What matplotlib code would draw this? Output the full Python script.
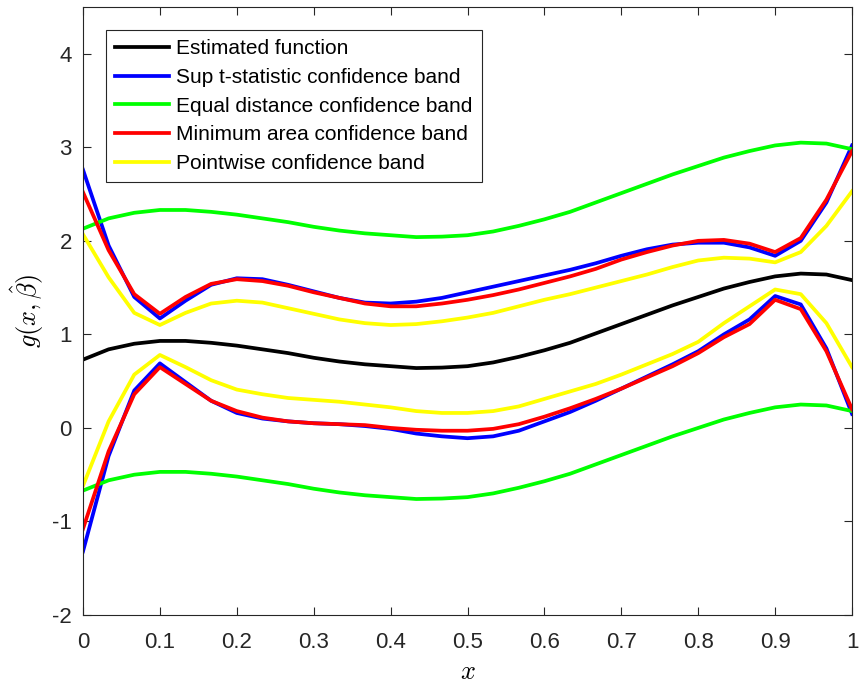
import numpy as np
import matplotlib.pyplot as plt
import matplotlib as mpl

mpl.rcParams['mathtext.fontset'] = 'cm'
plt.rcParams['font.family'] = ['Liberation Sans', 'DejaVu Sans']
plt.rcParams['font.size'] = 16
plt.rcParams['axes.unicode_minus'] = False
plt.rcParams['xtick.direction'] = 'in'
plt.rcParams['ytick.direction'] = 'in'
plt.rcParams['xtick.top'] = True
plt.rcParams['ytick.right'] = True

# grid of evaluation points
x = np.linspace(0, 1, 31)

# values
est = [0.73, 0.84, 0.90, 0.93, 0.93, 0.91, 0.88, 0.84, 0.80, 0.75, 0.71,
       0.68, 0.66, 0.64, 0.645, 0.66, 0.70, 0.76, 0.83, 0.91, 1.01,
       1.11, 1.21, 1.31, 1.40, 1.49, 1.56, 1.62, 1.65, 1.64, 1.58]

sup_hi = [2.76, 1.95, 1.40, 1.17, 1.36, 1.53, 1.60, 1.59, 1.53, 1.46, 1.39,
          1.34, 1.33, 1.35, 1.39, 1.45, 1.51, 1.57, 1.63, 1.69, 1.76,
          1.84, 1.91, 1.96, 1.98, 1.98, 1.93, 1.84, 2.00, 2.41, 3.02]
sup_lo = [-1.32, -0.30, 0.40, 0.69, 0.49, 0.29, 0.16, 0.10, 0.07, 0.05, 0.04,
          0.02, -0.01, -0.06, -0.09, -0.11, -0.09, -0.03, 0.07, 0.17, 0.29,
          0.42, 0.55, 0.68, 0.82, 1.00, 1.16, 1.41, 1.32, 0.85, 0.15]

eq_hi = [2.13, 2.24, 2.30, 2.33, 2.33, 2.31, 2.28, 2.24, 2.20, 2.15, 2.11,
         2.08, 2.06, 2.04, 2.045, 2.06, 2.10, 2.16, 2.23, 2.31, 2.41,
         2.51, 2.61, 2.71, 2.80, 2.89, 2.96, 3.02, 3.05, 3.04, 2.98]
eq_lo = [-0.67, -0.56, -0.50, -0.47, -0.47, -0.49, -0.52, -0.56, -0.60, -0.65, -0.69,
         -0.72, -0.74, -0.76, -0.755, -0.74, -0.70, -0.64, -0.57, -0.49, -0.39,
         -0.29, -0.19, -0.09, 0.00, 0.09, 0.16, 0.22, 0.25, 0.24, 0.18]

ma_hi = [2.52, 1.90, 1.43, 1.22, 1.40, 1.54, 1.59, 1.57, 1.52, 1.45, 1.39,
         1.33, 1.30, 1.30, 1.33, 1.37, 1.42, 1.48, 1.55, 1.62, 1.70,
         1.80, 1.88, 1.95, 2.00, 2.01, 1.97, 1.88, 2.03, 2.44, 2.96]
ma_lo = [-1.08, -0.25, 0.36, 0.65, 0.47, 0.29, 0.18, 0.11, 0.07, 0.05, 0.04,
         0.03, 0.00, -0.02, -0.03, -0.03, -0.01, 0.04, 0.12, 0.21, 0.31,
         0.42, 0.54, 0.66, 0.80, 0.97, 1.11, 1.37, 1.27, 0.82, 0.20]

pw_hi = [2.07, 1.61, 1.23, 1.10, 1.23, 1.33, 1.36, 1.34, 1.28, 1.22, 1.16,
         1.12, 1.10, 1.11, 1.14, 1.18, 1.23, 1.30, 1.37, 1.43, 1.50,
         1.57, 1.64, 1.72, 1.79, 1.82, 1.81, 1.77, 1.88, 2.16, 2.53]
pw_lo = [-0.62, 0.07, 0.57, 0.78, 0.65, 0.51, 0.41, 0.36, 0.32, 0.30, 0.28,
         0.25, 0.22, 0.18, 0.16, 0.16, 0.18, 0.23, 0.31, 0.39, 0.47,
         0.57, 0.68, 0.79, 0.92, 1.12, 1.30, 1.48, 1.43, 1.12, 0.65]

labels = ['Estimated function', 'Sup t-statistic confidence band',
          'Equal distance confidence band', 'Minimum area confidence band',
          'Pointwise confidence band']
xtick_labels = ['0', '0.1', '0.2', '0.3', '0.4', '0.5', '0.6', '0.7', '0.8', '0.9', '1']

fig = plt.figure(figsize=(8.59, 6.86), dpi=100)
ax = fig.add_axes([0.0966, 0.1035, 0.8953, 0.8863])
lw = 2.7

ax.plot(x, est, color='k', lw=lw, label=labels[0])
ax.plot(x, sup_hi, color='#0000ff', lw=lw, label=labels[1])
ax.plot(x, sup_lo, color='#0000ff', lw=lw)
ax.plot(x, eq_hi, color='#00ff00', lw=lw, label=labels[2])
ax.plot(x, eq_lo, color='#00ff00', lw=lw)
ax.plot(x, ma_hi, color='#ff0000', lw=lw, label=labels[3])
ax.plot(x, ma_lo, color='#ff0000', lw=lw)
ax.plot(x, pw_hi, color='#ffff00', lw=lw, label=labels[4])
ax.plot(x, pw_lo, color='#ffff00', lw=lw)

ax.set_xlim(0, 1)
ax.set_ylim(-2, 4.5)
ax.set_xticks(np.arange(0, 1.01, 0.1))
ax.set_xticklabels(xtick_labels)
ax.set_yticks(np.arange(-2, 5, 1))
ax.tick_params(colors='#262626', length=5.5, width=0.8, labelsize=16)
ax.tick_params(axis='x', pad=12)
ax.tick_params(axis='y', pad=8)
for s in ax.spines.values():
    s.set_color('#262626')
    s.set_linewidth(0.8)

ax.set_xlabel(r'$x$', fontsize=19, labelpad=5)
ax.set_ylabel(r'$g(x,\hat{\beta})$', fontsize=19, labelpad=4)

leg = ax.legend(loc='upper left', bbox_to_anchor=(0.03, 0.962), fontsize=15,
                frameon=True, fancybox=False, framealpha=1, handlelength=2.55,
                borderaxespad=0, labelspacing=0.46, handletextpad=0.35, borderpad=0.45)
leg.get_frame().set_edgecolor('#262626')
leg.get_frame().set_linewidth(0.8)

fig.savefig('out.png', dpi=100)
